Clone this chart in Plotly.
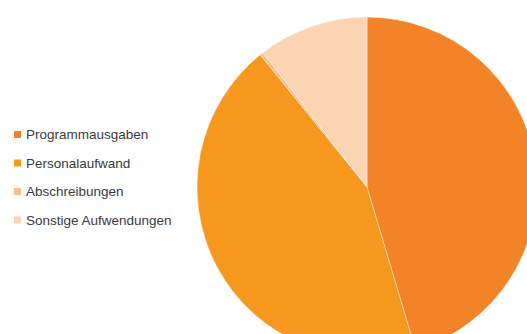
import plotly.graph_objects as go

# Data
labels = ["Programmausgaben", "Personalaufwand", "Abschreibungen", "Sonstige Aufwendungen"]
values = [45.4, 43.8, 0.3, 10.5]
colors = ["#F28427", "#F7981E", "#F5BE8E", "#FBD4B4"]

# Layout geometry (pixels)
W, H = 540, 360
ML, MT = 197, 17
PW = PH = 340
MR = W - ML - PW
MB = H - MT - PH


def px_x(x):
    return (x - ML) / PW


def px_y(y):
    return 1 - (y - MT) / PH


fig = go.Figure(
    go.Pie(
        labels=labels,
        values=values,
        sort=False,
        direction="clockwise",
        rotation=0,
        marker=dict(colors=colors, line=dict(color="rgba(255,255,255,0.7)", width=0.6)),
        textinfo="none",
        hoverinfo="label+percent",
        showlegend=False,
    )
)

legend_y = [134.5, 163, 191.5, 220]
shapes = []
annotations = []
for lab, col, y in zip(labels, colors, legend_y):
    shapes.append(
        dict(
            type="rect",
            xref="paper",
            yref="paper",
            x0=px_x(14),
            x1=px_x(21),
            y0=px_y(y + 3.5),
            y1=px_y(y - 3.5),
            fillcolor=col,
            line=dict(width=0),
        )
    )
    annotations.append(
        dict(
            text=lab,
            xref="paper",
            yref="paper",
            x=px_x(24),
            y=px_y(y),
            xanchor="left",
            yanchor="middle",
            showarrow=False,
            font=dict(family="Liberation Sans, Arial, sans-serif", size=13.5, color="#3a3a3a"),
        )
    )

fig.update_layout(
    width=W,
    height=H,
    margin=dict(l=ML, r=MR, t=MT, b=MB),
    paper_bgcolor="white",
    plot_bgcolor="white",
    shapes=shapes,
    annotations=annotations,
)

fig.write_html("out.html")
